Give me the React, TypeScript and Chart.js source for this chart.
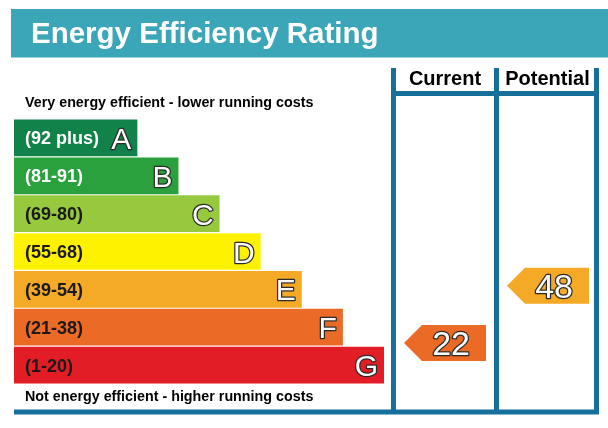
import React, { useEffect, useRef } from "react";
import { Chart, registerables } from "chart.js";

Chart.register(...registerables);

// ---- data ----
const titleText = "Energy Efficiency Rating";
const topNote = "Very energy efficient - lower running costs";
const bottomNote = "Not energy efficient - higher running costs";
const categories = ["A", "B", "C", "D", "E", "F", "G"];
const rangeLabels = ["(92 plus)", "(81-91)", "(69-80)", "(55-68)", "(39-54)", "(21-38)", "(1-20)"];
const bandMin = [92, 81, 69, 55, 39, 21, 1];
const bandMax = [100, 91, 80, 68, 54, 38, 20];
const bandLengths = [3, 4, 5, 6, 7, 8, 9];
const columnHeaders = ["Current", "Potential"];
const ratings = [22, 48];

// ---- styles ----
const FONT = '"Liberation Sans", Arial, Helvetica, sans-serif';
const bandColors = ["#11824a", "#2aa13c", "#97c93f", "#fff200", "#f4a927", "#ea6a26", "#e31d25"];
const rangeTextColors = ["#ffffff", "#ffffff", "#1a1a1a", "#1a1a1a", "#1a1a1a", "#1a1a1a", "#1a1a1a"];
const bannerColor = "#3ba6b8";
const frameColor = "#16709a";

const W = 608;
const H = 428;
const frame = {
  left: 14,
  top: 68,
  lineW: 5,
  cols: [396, 494, 499, 594], // inner edges: current [396,494], potential [499,594]
  headerLineY: 93.5,
  bottomY: 412,
};

function bandOf(r: number) {
  for (let i = 0; i < categories.length; i++) {
    if (r >= bandMin[i] && r <= bandMax[i]) return i;
  }
  return categories.length - 1;
}

const epcPlugin = {
  id: "epcDecor",
  beforeDraw(chart: any) {
    const ctx = chart.ctx as CanvasRenderingContext2D;
    ctx.save();
    ctx.fillStyle = "#ffffff";
    ctx.fillRect(0, 0, W, H);
    ctx.fillStyle = bannerColor;
    ctx.fillRect(11, 9, W - 11, 48.5);
    ctx.fillStyle = "#ffffff";
    ctx.font = `bold 29.5px ${FONT}`;
    ctx.textBaseline = "alphabetic";
    ctx.textAlign = "left";
    ctx.fillText(titleText, 31, 43);
    ctx.restore();
  },
  afterDatasetsDraw(chart: any) {
    const ctx = chart.ctx as CanvasRenderingContext2D;
    const xs = chart.scales.x;
    const ys = chart.scales.y;
    ctx.save();
    ctx.textBaseline = "alphabetic";

    // notes
    ctx.fillStyle = "#000000";
    ctx.font = `bold 14.3px ${FONT}`;
    ctx.textAlign = "left";
    ctx.fillText(topNote, 25, 107);
    ctx.fillText(bottomNote, 25, 401);

    // band labels
    for (let i = 0; i < categories.length; i++) {
      const yc = ys.getPixelForValue(i);
      const xe = xs.getPixelForValue(bandLengths[i]);
      ctx.textAlign = "left";
      ctx.font = `bold 18px ${FONT}`;
      ctx.fillStyle = rangeTextColors[i];
      ctx.fillText(rangeLabels[i], 25, yc + 6.5);
      ctx.textAlign = "right";
      ctx.font = `30px ${FONT}`;
      ctx.lineJoin = "round";
      ctx.lineWidth = 2.5;
      ctx.strokeStyle = "#2a2a2a";
      ctx.strokeText(categories[i], xe - 6, yc + 11);
      ctx.fillStyle = "#ffffff";
      ctx.fillText(categories[i], xe - 6, yc + 11);
    }

    // frame
    ctx.strokeStyle = frameColor;
    ctx.lineWidth = frame.lineW;
    ctx.lineCap = "butt";
    const half = frame.lineW / 2;
    const vx = [frame.cols[0] - half, frame.cols[1] + half, frame.cols[3] + half];
    ctx.beginPath();
    for (const x of vx) {
      ctx.moveTo(x, frame.top);
      ctx.lineTo(x, frame.bottomY + half);
    }
    ctx.moveTo(frame.cols[0] - frame.lineW, frame.headerLineY);
    ctx.lineTo(frame.cols[3] + frame.lineW, frame.headerLineY);
    ctx.moveTo(frame.left, frame.bottomY);
    ctx.lineTo(frame.cols[3] + frame.lineW, frame.bottomY);
    ctx.stroke();

    // column headers
    ctx.fillStyle = "#000000";
    ctx.font = `bold 20px ${FONT}`;
    ctx.textAlign = "center";
    ctx.fillText(columnHeaders[0], (frame.cols[0] + frame.cols[1]) / 2, 85);
    ctx.fillText(columnHeaders[1], (frame.cols[2] + frame.cols[3]) / 2 + 1, 85);

    // rating arrows
    const colLefts = [frame.cols[0], frame.cols[2]];
    ratings.forEach((r, j) => {
      const i = bandOf(r);
      const frac = (bandMax[i] - r + 0.5) / (bandMax[i] - bandMin[i] + 1);
      const yc = ys.getPixelForValue(i - 0.5 + frac);
      const tip = colLefts[j] + 8;
      const right = tip + 82;
      const hh = 18;
      ctx.fillStyle = bandColors[i];
      ctx.beginPath();
      ctx.moveTo(tip, yc);
      ctx.lineTo(tip + 18, yc - hh);
      ctx.lineTo(right, yc - hh);
      ctx.lineTo(right, yc + hh);
      ctx.lineTo(tip + 18, yc + hh);
      ctx.closePath();
      ctx.fill();
      ctx.textAlign = "right";
      ctx.font = `34px ${FONT}`;
      ctx.lineJoin = "round";
      ctx.lineWidth = 2.5;
      ctx.strokeStyle = "#2a2a2a";
      ctx.strokeText(String(r), right - 16, yc + 12);
      ctx.fillStyle = "#ffffff";
      ctx.fillText(String(r), right - 16, yc + 12);
    });

    ctx.restore();
  },
};

export default function App() {
  const ref = useRef<HTMLCanvasElement | null>(null);
  useEffect(() => {
    if (!ref.current) return;
    const chart = new Chart(ref.current, {
      type: "bar",
      data: {
        labels: categories,
        datasets: [
          {
            data: bandLengths,
            backgroundColor: bandColors,
            borderWidth: 0,
            barPercentage: 0.97,
            categoryPercentage: 1,
          },
        ],
      },
      options: {
        animation: false,
        responsive: false,
        indexAxis: "y",
        layout: { padding: { left: 14, top: 119, right: 224, bottom: 44 } },
        scales: {
          x: { type: "linear", min: 0, max: 9, display: false },
          y: { type: "category", display: false, offset: true },
        },
        plugins: {
          legend: { display: false },
          tooltip: { enabled: false },
          title: { display: false },
        },
      },
      plugins: [epcPlugin],
    } as any);
    return () => chart.destroy();
  }, []);
  return (
    <div style={{ position: "absolute", left: 0, top: 0, width: W, height: H }}>
      <canvas ref={ref} width={W} height={H} style={{ width: W, height: H, display: "block" }} />
    </div>
  );
}
